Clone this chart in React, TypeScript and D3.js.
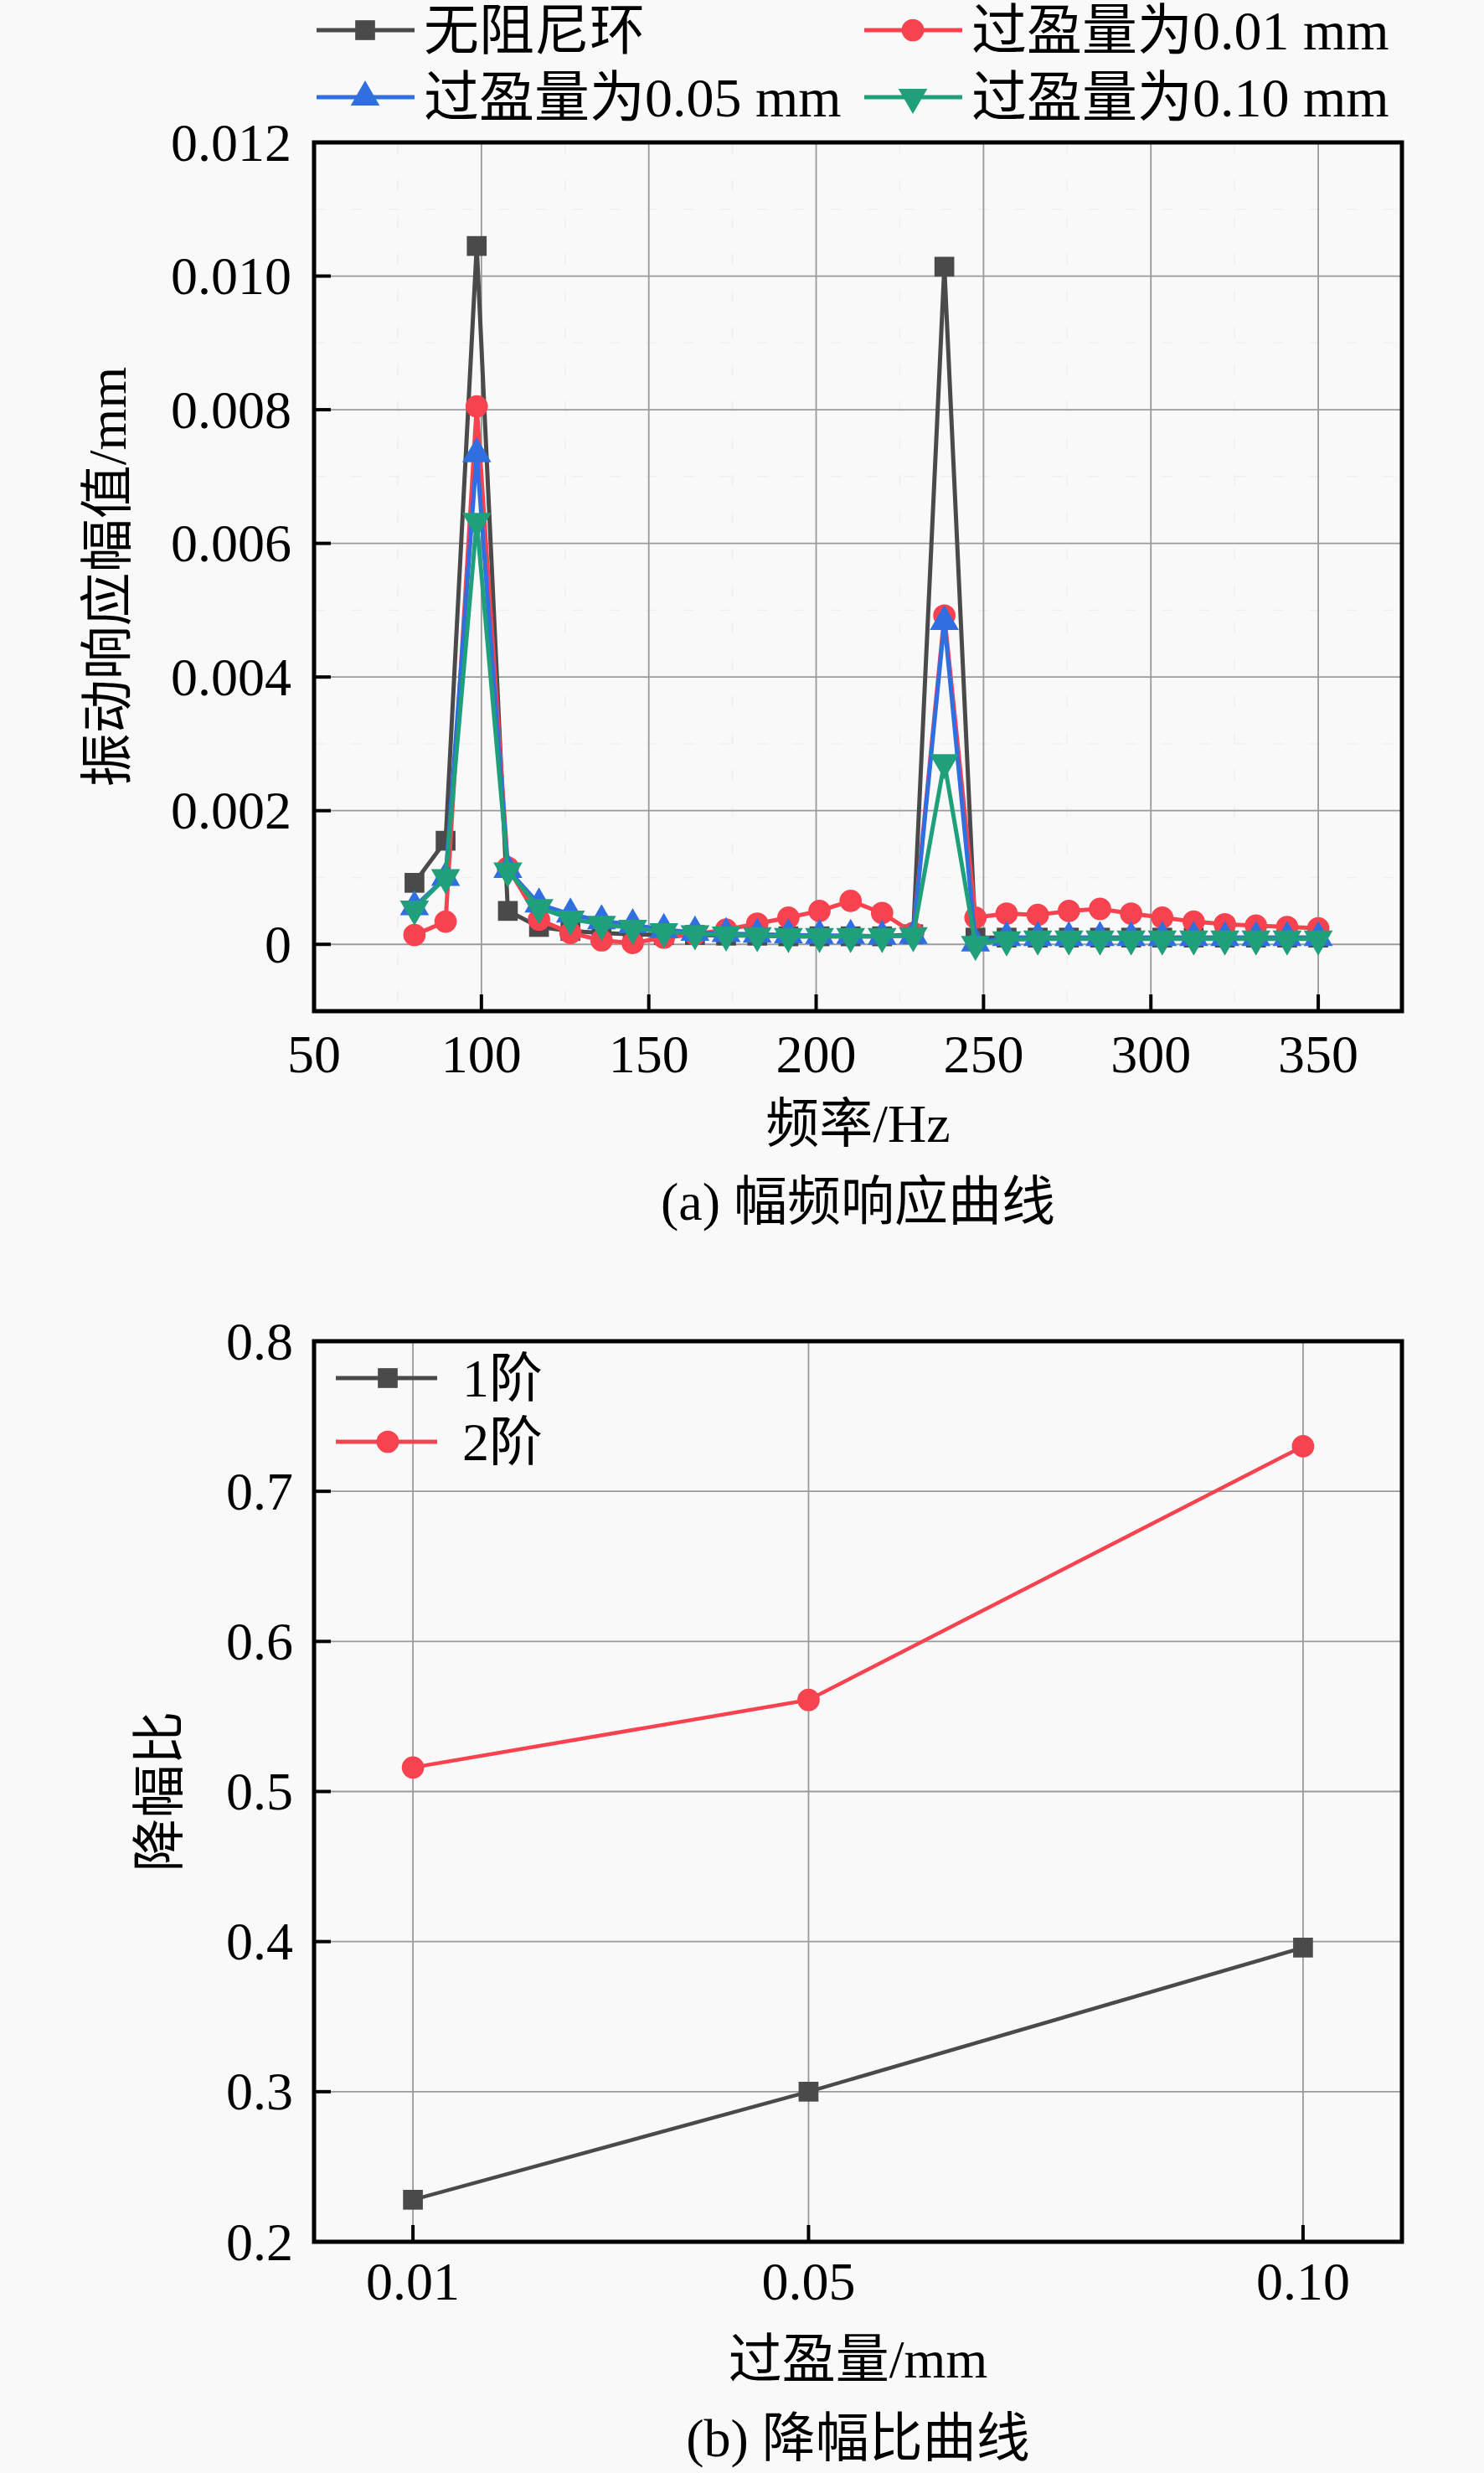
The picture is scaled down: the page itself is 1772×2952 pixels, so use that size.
import React from "react";
import * as d3 from "d3";

// ---------- Data: (a) amplitude-frequency response ----------
const freqHz = [80, 89.3, 98.6, 107.9, 117.2, 126.6, 135.9, 145.2, 154.5, 163.8, 173.1, 182.4, 191.7, 201.0, 210.3, 219.7, 229.0, 238.3, 247.6, 256.9, 266.2, 275.5, 284.8, 294.1, 303.4, 312.8, 322.1, 331.4, 340.7, 350];
const noRing = [0.00092, 0.00155, 0.01045, 0.0005, 0.00026, 0.0002, 0.00017, 0.00015, 0.00014, 0.00014, 0.00013, 0.00013, 0.00012, 0.00012, 0.00012, 0.00012, 0.00015, 0.01014, 0.0001, 0.0001, 0.0001, 0.0001, 0.0001, 0.0001, 0.0001, 0.0001, 0.0001, 0.0001, 0.0001, 0.0001];
const fit001 = [0.00014, 0.00034, 0.00805, 0.00115, 0.00037, 0.00017, 0.00006, 0.00002, 0.0001, 0.00015, 0.00022, 0.00031, 0.0004, 0.0005, 0.00065, 0.00047, 0.00017, 0.00492, 0.0004, 0.00046, 0.00044, 0.0005, 0.00053, 0.00046, 0.0004, 0.00034, 0.0003, 0.00028, 0.00026, 0.00024];
const fit005 = [0.00056, 0.001, 0.00734, 0.00112, 0.0006, 0.00045, 0.00035, 0.00029, 0.00022, 0.00018, 0.00016, 0.00015, 0.00014, 0.00013, 0.00013, 0.00012, 0.00013, 0.00483, 0.00002, 0.0001, 0.0001, 0.0001, 0.0001, 0.0001, 0.0001, 0.0001, 0.0001, 0.0001, 0.0001, 0.0001];
const fit010 = [0.00053, 0.001, 0.00633, 0.0011, 0.00055, 0.00038, 0.0003, 0.00024, 0.00019, 0.00016, 0.00014, 0.00013, 0.00012, 0.00012, 0.00012, 0.00012, 0.00013, 0.00272, 0.0, 0.00007, 0.00008, 0.00008, 0.00008, 0.00008, 0.00008, 0.00008, 0.00008, 0.00008, 0.00008, 0.00008];
const seriesNamesA = ["无阻尼环", "过盈量为0.01 mm", "过盈量为0.05 mm", "过盈量为0.10 mm"];
const xTicksA = [50, 100, 150, 200, 250, 300, 350];
const yTicksA = [0, 0.002, 0.004, 0.006, 0.008, 0.010, 0.012];
const yTickLabelsA = ["0", "0.002", "0.004", "0.006", "0.008", "0.010", "0.012"];

// ---------- Data: (b) amplitude reduction ratio ----------
const interference = [0.01, 0.05, 0.10];
const interferenceLabels = ["0.01", "0.05", "0.10"];
const order1 = [0.228, 0.300, 0.396];
const order2 = [0.516, 0.561, 0.730];
const seriesNamesB = ["1阶", "2阶"];
const yTicksB = [0.2, 0.3, 0.4, 0.5, 0.6, 0.7, 0.8];

const COLORS = ["#4a4a4a", "#f7424f", "#2f6fdf", "#1fa07a"];
const FONT = "'Liberation Serif', 'Times New Roman', 'Noto Sans CJK SC', serif";
const FS = 64;

type Shape = "square" | "circle" | "up" | "down";
const SHAPES: Shape[] = ["square", "circle", "up", "down"];

function Marker({ x, y, shape, color }: { x: number; y: number; shape: Shape; color: string }) {
  let sym: d3.SymbolType = d3.symbolSquare;
  let size = 560;
  let rot = 0;
  if (shape === "circle") { sym = d3.symbolCircle; size = 560; }
  if (shape === "up") { sym = d3.symbolTriangle; size = 520; }
  if (shape === "down") { sym = d3.symbolTriangle; size = 520; rot = 180; }
  const p = d3.symbol().type(sym).size(size)() as string;
  return <path d={p} transform={`translate(${x},${y}) rotate(${rot})`} fill={color} />;
}

export default function App() {
  // ---- panel (a) ----
  const aL = 375, aR = 1674, aT = 170, aB = 1207;
  const xA = d3.scaleLinear().domain([50, 375]).range([aL, aR]);
  const yA = d3.scaleLinear().domain([-0.001, 0.012]).range([aB, aT]);
  const seriesA = [noRing, fit001, fit005, fit010];
  const lineA = d3.line<number>().x((_, i) => xA(freqHz[i])).y((d) => yA(d));
  const minorXA = d3.range(75, 375, 50);
  const minorYA = d3.range(-0.001, 0.012, 0.002).filter((v) => v > -0.001);

  // ---- panel (b) ----
  const bL = 375, bR = 1674, bT = 1601, bB = 2676;
  const xB = d3.scaleLinear().domain([0, 0.11]).range([bL, bR]);
  const yB = d3.scaleLinear().domain([0.2, 0.8]).range([bB, bT]);
  const lineB = d3.line<number>().x((_, i) => xB(interference[i])).y((d) => yB(d));
  const seriesB = [order1, order2];

  const gridColor = "#9a9a9a";
  const minorColor = "#efefef";

  return (
    <svg width={1772} height={2952} style={{ position: "absolute", left: 0, top: 0, background: "#f9f9f9" }} fontFamily={FONT}>
      <rect x={0} y={0} width={1772} height={2952} fill="#f9f9f9" />

      {/* ===== Panel (a) ===== */}
      <g>
        {minorXA.map((v) => (
          <line key={"mxa" + v} x1={xA(v)} x2={xA(v)} y1={aT} y2={aB} stroke={minorColor} strokeWidth={1.5} strokeDasharray="14 30" />
        ))}
        {minorYA.map((v) => (
          <line key={"mya" + v} x1={aL} x2={aR} y1={yA(v)} y2={yA(v)} stroke={minorColor} strokeWidth={1.5} strokeDasharray="14 30" />
        ))}
        {xTicksA.slice(1).map((v) => (
          <line key={"gxa" + v} x1={xA(v)} x2={xA(v)} y1={aT} y2={aB} stroke={gridColor} strokeWidth={1.8} />
        ))}
        {yTicksA.slice(0, -1).map((v) => (
          <line key={"gya" + v} x1={aL} x2={aR} y1={yA(v)} y2={yA(v)} stroke={gridColor} strokeWidth={1.8} />
        ))}

        {seriesA.map((s, k) => (
          <g key={"sa" + k}>
            <path d={lineA(s) as string} fill="none" stroke={COLORS[k]} strokeWidth={5} strokeLinejoin="round" />
            {s.map((v, i) => (
              <Marker key={i} x={xA(freqHz[i])} y={yA(v)} shape={SHAPES[k]} color={COLORS[k]} />
            ))}
          </g>
        ))}

        <rect x={aL} y={aT} width={aR - aL} height={aB - aT} fill="none" stroke="#000" strokeWidth={5} />
        {xTicksA.map((v) => (
          <g key={"xta" + v}>
            <line x1={xA(v)} x2={xA(v)} y1={aB} y2={aB - 20} stroke="#000" strokeWidth={4} />
            <text x={xA(v)} y={1258} fontSize={FS} textAnchor="middle" dominantBaseline="central">{v}</text>
          </g>
        ))}
        {yTicksA.map((v, i) => (
          <g key={"yta" + v}>
            <line x1={aL} x2={aL + 20} y1={yA(v)} y2={yA(v)} stroke="#000" strokeWidth={4} />
            <text x={348} y={yA(v)} fontSize={FS} textAnchor="end" dominantBaseline="central">{yTickLabelsA[i]}</text>
          </g>
        ))}
        <text x={(aL + aR) / 2} y={1341} fontSize={FS} textAnchor="middle" dominantBaseline="central">频率/Hz</text>
        <text x={(aL + aR) / 2} y={1434} fontSize={FS} textAnchor="middle" dominantBaseline="central">(a) 幅频响应曲线</text>
        <text transform={`translate(128,${(aT + aB) / 2}) rotate(-90)`} fontSize={FS} textAnchor="middle" dominantBaseline="central">振动响应幅值/mm</text>

        {/* legend */}
        {seriesNamesA.map((name, k) => {
          const col = k % 2;
          const row = Math.floor(k / 2);
          const lx = col === 0 ? 378 : 1032;
          const ly = row === 0 ? 36 : 116;
          return (
            <g key={"lga" + k}>
              <line x1={lx} x2={lx + 117} y1={ly} y2={ly} stroke={COLORS[k]} strokeWidth={5} />
              <Marker x={lx + 58} y={ly} shape={SHAPES[k]} color={COLORS[k]} />
              <text x={lx + 128} y={ly} fontSize={66} dominantBaseline="central">{name}</text>
            </g>
          );
        })}
      </g>

      {/* ===== Panel (b) ===== */}
      <g>
        {interference.map((v) => (
          <line key={"gxb" + v} x1={xB(v)} x2={xB(v)} y1={bT} y2={bB} stroke={gridColor} strokeWidth={1.8} />
        ))}
        {yTicksB.slice(1, -1).map((v) => (
          <line key={"gyb" + v} x1={bL} x2={bR} y1={yB(v)} y2={yB(v)} stroke={gridColor} strokeWidth={1.8} />
        ))}

        {seriesB.map((s, k) => (
          <g key={"sb" + k}>
            <path d={lineB(s) as string} fill="none" stroke={COLORS[k]} strokeWidth={4.5} />
            {s.map((v, i) => (
              <Marker key={i} x={xB(interference[i])} y={yB(v)} shape={SHAPES[k]} color={COLORS[k]} />
            ))}
          </g>
        ))}

        <rect x={bL} y={bT} width={bR - bL} height={bB - bT} fill="none" stroke="#000" strokeWidth={5} />
        {interference.map((v, i) => (
          <g key={"xtb" + v}>
            <line x1={xB(v)} x2={xB(v)} y1={bB} y2={bB - 20} stroke="#000" strokeWidth={4} />
            <text x={xB(v)} y={2723} fontSize={FS} textAnchor="middle" dominantBaseline="central">{interferenceLabels[i]}</text>
          </g>
        ))}
        {yTicksB.map((v) => (
          <g key={"ytb" + v}>
            <line x1={bL} x2={bL + 20} y1={yB(v)} y2={yB(v)} stroke="#000" strokeWidth={4} />
            <text x={350} y={yB(v)} fontSize={FS} textAnchor="end" dominantBaseline="central">{v.toFixed(1)}</text>
          </g>
        ))}
        <text x={(bL + bR) / 2} y={2816} fontSize={FS} textAnchor="middle" dominantBaseline="central">过盈量/mm</text>
        <text x={(bL + bR) / 2} y={2910} fontSize={FS} textAnchor="middle" dominantBaseline="central">(b) 降幅比曲线</text>
        <text transform={`translate(190,${(bT + bB) / 2}) rotate(-90)`} fontSize={FS} textAnchor="middle" dominantBaseline="central">降幅比</text>

        {seriesNamesB.map((name, k) => {
          const ly = k === 0 ? 1645 : 1721;
          return (
            <g key={"lgb" + k}>
              <line x1={401} x2={522} y1={ly} y2={ly} stroke={COLORS[k]} strokeWidth={5} />
              <Marker x={463} y={ly} shape={SHAPES[k]} color={COLORS[k]} />
              <text x={552} y={ly} fontSize={FS} dominantBaseline="central">{name}</text>
            </g>
          );
        })}
      </g>
    </svg>
  );
}
